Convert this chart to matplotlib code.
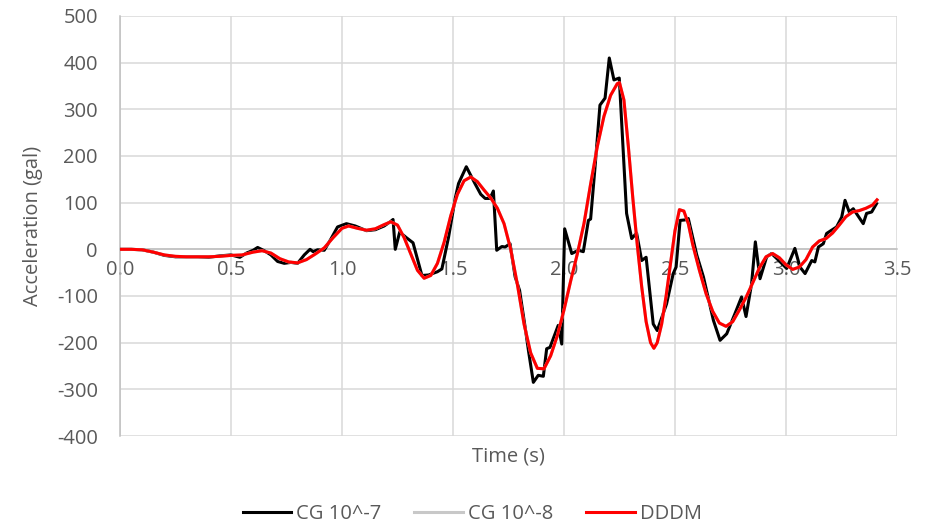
import matplotlib
matplotlib.use("Agg")
import matplotlib.pyplot as plt
from matplotlib.ticker import FormatStrFormatter

plt.rcParams['font.family'] = ['Open Sans', 'DejaVu Sans']
plt.rcParams['axes.unicode_minus'] = False

# ---- data ----
t_cg7 = [0, 0.05, 0.10, 0.15, 0.20, 0.25, 0.30, 0.35, 0.40, 0.45, 0.50, 0.54, 0.57,
         0.60, 0.62, 0.65, 0.68, 0.71, 0.74, 0.77, 0.80, 0.83, 0.856, 0.87, 0.89,
         0.92, 0.95, 0.98, 1.02, 1.06, 1.11, 1.15, 1.19, 1.22, 1.23, 1.24, 1.26,
         1.29, 1.32, 1.36, 1.39, 1.43, 1.45, 1.48, 1.51, 1.525, 1.56, 1.60, 1.625,
         1.645, 1.667, 1.682, 1.697, 1.72, 1.735, 1.757, 1.78, 1.80, 1.825, 1.84,
         1.862, 1.884, 1.907, 1.922, 1.937, 1.974, 1.99, 2.003, 2.035, 2.065, 2.087,
         2.11, 2.12, 2.14, 2.162, 2.185, 2.204, 2.225, 2.249, 2.282, 2.305, 2.327,
         2.35, 2.37, 2.402, 2.42, 2.462, 2.492, 2.505, 2.523, 2.545, 2.56, 2.598,
         2.628, 2.673, 2.703, 2.733, 2.77, 2.80, 2.82, 2.845, 2.862, 2.883, 2.913,
         2.935, 2.97, 3.003, 3.04, 3.063, 3.086, 3.116, 3.13, 3.146, 3.168, 3.183,
         3.228, 3.251, 3.266, 3.285, 3.303, 3.348, 3.363, 3.386, 3.408]
a_cg7 = [0, 0, -1, -6, -13, -16, -16, -16, -17, -14, -12, -17, -8,
         -2, 4, -3, -12, -26, -30, -28, -30, -12, 0, -5, -1,
         -2, 22, 48, 55, 50, 40, 42, 50, 60, 64, 0, 37,
         25, 14, -56, -55, -48, -42, 26, 109, 141, 177, 140, 118,
         109, 109, 125, -2, 6, 5, 12, -59, -88, -167, -217,
         -285, -270, -272, -213, -210, -163, -203, 44, -9, -2, -5,
         62, 65, 177, 309, 324, 410, 363, 367, 77, 23, 35,
         -24, -17, -160, -174, -117, -52, -38, 62, 63, 66, -12,
         -59, -152, -195, -181, -138, -102, -144, -74, 16, -63, -16,
         -9, -25, -41, 2, -38, -52, -24, -27, 5, 12, 34,
         48, 69, 105, 80, 87, 55, 77, 80, 98]

t_dddm = [0, 0.05, 0.10, 0.15, 0.20, 0.25, 0.30, 0.35, 0.40, 0.45, 0.50, 0.55, 0.60,
          0.64, 0.68, 0.72, 0.76, 0.80, 0.84, 0.88, 0.92, 0.96, 1.00, 1.03, 1.07,
          1.11, 1.15, 1.19, 1.22, 1.25, 1.28, 1.31, 1.34, 1.37, 1.40, 1.43, 1.46,
          1.49, 1.52, 1.55, 1.58, 1.61, 1.64, 1.67, 1.70, 1.73, 1.76, 1.79, 1.82,
          1.85, 1.88, 1.91, 1.94, 1.97, 2.00, 2.03, 2.06, 2.09, 2.12, 2.15, 2.18,
          2.21, 2.24, 2.25, 2.27, 2.29, 2.31, 2.33, 2.35, 2.37, 2.39, 2.405, 2.42,
          2.44, 2.46, 2.48, 2.50, 2.52, 2.54, 2.56, 2.58, 2.61, 2.64, 2.67, 2.70,
          2.73, 2.76, 2.79, 2.82, 2.85, 2.88, 2.91, 2.94, 2.97, 3.00, 3.03, 3.06,
          3.09, 3.12, 3.15, 3.18, 3.21, 3.24, 3.27, 3.30, 3.33, 3.36, 3.39, 3.41]
a_dddm = [0, 0, -1, -6, -12, -15, -16, -16, -16, -15, -13, -12, -6,
          -3, -8, -20, -27, -29, -22, -10, 3, 25, 45, 50, 45,
          41, 44, 53, 59, 52, 25, -10, -45, -62, -56, -30, 15,
          72, 118, 147, 155, 145, 127, 110, 88, 55, 0, -75, -160,
          -222, -255, -256, -228, -185, -130, -68, -10, 55, 140, 220, 285,
          330, 355, 357, 320, 220, 110, 10, -80, -155, -200, -212, -200,
          -160, -100, -30, 40, 85, 82, 55, 10, -45, -95, -133, -158,
          -165, -155, -130, -103, -72, -40, -16, -9, -18, -33, -43, -38,
          -22, 5, 18, 23, 35, 52, 70, 80, 83, 88, 95, 106]

# CG 10^-8 lies under the DDDM curve in the reference
t_cg8 = list(t_dddm)
a_cg8 = list(a_dddm)

series_names = ["CG 10^-7", "CG 10^-8", "DDDM"]
x_ticks = [0.0, 0.5, 1.0, 1.5, 2.0, 2.5, 3.0, 3.5]
y_ticks = [-400, -300, -200, -100, 0, 100, 200, 300, 400, 500]

# ---- figure ----
txt = '#595959'
grid = '#d9d9d9'
fig = plt.figure(figsize=(9.33, 5.26), dpi=100)
ax = fig.add_axes([0.1286, 0.1711, 0.8328, 0.7985])

l1, = ax.plot(t_cg7, a_cg7, color='black', lw=2.2, label=series_names[0], zorder=3)
l2, = ax.plot(t_cg8, a_cg8, color='#c8c8c8', lw=2.2, label=series_names[1], zorder=3.5)
l3, = ax.plot(t_dddm, a_dddm, color='#ff0000', lw=2.2, label=series_names[2], zorder=4)

ax.set_xlim(0, 3.5)
ax.set_ylim(-400, 500)
ax.set_xticks(x_ticks)
ax.set_yticks(y_ticks)
ax.xaxis.set_major_formatter(FormatStrFormatter('%.1f'))

ax.grid(True, color=grid, lw=1.1, zorder=0)
ax.set_axisbelow(True)
for s in ['top', 'right']:
    ax.spines[s].set_visible(False)
ax.spines['left'].set_color('#bfbfbf')
ax.spines['left'].set_linewidth(1.1)
ax.spines['bottom'].set_position(('data', 0))
ax.spines['bottom'].set_color('#bfbfbf')
ax.spines['bottom'].set_linewidth(1.1)
ax.spines['bottom'].set_zorder(1)

ax.tick_params(axis='both', length=0, labelsize=14.5, labelcolor=txt)
ax.tick_params(axis='y', pad=16)
ax.tick_params(axis='x', pad=8)

ax.set_ylabel("Acceleration (gal)", fontsize=14.5, color=txt, labelpad=10)
fig.text(0.5445, 0.133, "Time (s)", fontsize=14.5, color=txt, ha='center', va='center')

fig.legend(handles=[l1, l2, l3], loc='center', bbox_to_anchor=(0.506, 0.023),
           ncol=3, frameon=False, fontsize=14.5, handlelength=2.4,
           handletextpad=0.25, columnspacing=1.65, labelcolor=txt)

fig.savefig("out.png", dpi=100)
